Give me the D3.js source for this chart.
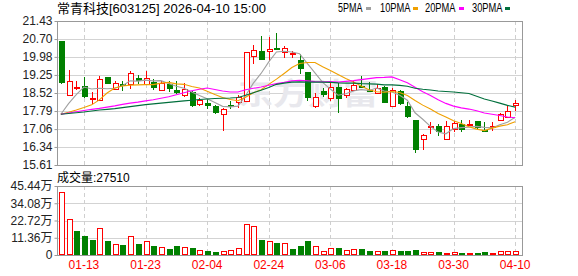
<!DOCTYPE html>
<html><head><meta charset="utf-8">
<script src="https://cdn.jsdelivr.net/npm/d3@7/dist/d3.min.js"></script>
<style>
html,body{margin:0;padding:0;background:#fff;}
svg{display:block;}
text{font-family:"Liberation Sans","Noto Sans CJK SC",sans-serif;}
</style></head>
<body><svg id="c" width="578" height="276"></svg>
<script>
const dates = ["01-08","01-09","01-12","01-13","01-14","01-15","01-16","01-19","01-20","01-21",
"01-22","01-23","01-26","01-27","01-28","01-29","01-30","02-02","02-03","02-04",
"02-05","02-06","02-09","02-10","02-11","02-12","02-13","02-24","02-25","02-26",
"02-27","03-02","03-03","03-04","03-05","03-06","03-09","03-10","03-11","03-12",
"03-13","03-16","03-17","03-18","03-19","03-20","03-23","03-24","03-25","03-26",
"03-27","03-30","03-31","04-01","04-02","04-03","04-07","04-08","04-09","04-10"];
const opens = [20.62,18.41,18.76,18.80,18.27,18.24,19.17,18.68,18.89,18.86,
19.14,18.86,18.98,18.62,18.87,18.63,18.44,18.57,18.08,18.13,
18.01,17.69,18.03,18.13,18.19,20.03,20.22,20.22,20.35,20.15,
20.08,19.85,19.38,17.97,18.60,18.30,18.75,18.44,18.64,18.80,
18.64,18.55,18.76,18.03,18.59,18.00,17.43,16.65,17.13,17.19,
16.66,17.03,17.27,17.23,17.39,17.02,17.12,17.43,17.56,18.01];
const highs = [20.64,19.45,19.02,19.17,18.55,19.21,19.18,19.00,19.00,19.41,
19.25,19.42,19.07,19.02,19.02,19.02,18.94,18.60,18.30,18.26,
18.04,17.93,18.21,18.44,20.17,20.46,20.82,20.80,20.96,20.42,
20.20,20.10,19.38,18.52,18.72,18.91,18.91,18.74,19.02,19.20,
18.95,18.87,18.80,18.71,18.64,18.14,17.43,16.85,17.33,17.27,
17.37,17.39,17.41,17.43,17.40,17.33,17.33,17.70,18.04,18.24];
const lows = [18.88,18.41,18.64,18.33,18.08,18.21,18.88,18.65,18.62,18.68,
18.87,18.86,18.64,18.61,18.55,18.47,18.37,17.97,18.01,17.88,
17.69,17.00,17.87,17.92,18.15,19.68,19.85,19.83,20.26,19.92,
19.95,19.30,18.21,17.93,18.37,18.20,17.73,18.30,18.60,18.71,
18.55,18.47,18.10,18.01,18.03,17.52,16.11,16.22,16.85,16.80,
16.66,16.96,16.96,17.19,17.06,16.96,16.98,17.42,17.55,17.81];
const closes = [18.91,18.99,18.78,18.37,18.33,19.07,18.88,18.91,18.83,19.31,
19.01,19.11,18.72,18.91,18.65,18.50,18.68,18.01,18.24,18.02,
17.73,17.89,17.94,18.35,20.17,20.26,19.85,20.29,20.32,20.33,
20.13,19.50,18.33,18.34,18.45,18.76,18.25,18.67,18.86,18.75,
18.57,18.74,18.10,18.66,18.08,17.55,16.22,16.81,17.19,16.93,
17.19,17.29,17.01,17.28,17.09,16.98,17.18,17.66,17.79,18.10];
const volumes = [41.8,23.4,15.7,12.5,9.8,17.5,9.2,7.2,6.6,12.3,
7.2,9.2,5.9,5.0,3.9,5.9,5.0,4.6,3.1,2.6,
2.0,2.4,3.3,4.4,20.1,18.8,9.8,9.2,8.1,7.7,
3.9,5.9,9.4,5.7,2.4,4.4,4.6,3.3,3.7,3.9,
2.6,2.6,2.6,3.1,2.6,2.6,3.3,1.8,1.8,2.0,
1.3,1.8,1.3,1.3,1.3,2.0,1.3,2.4,2.4,2.751];
const volUp = [1,1,0,0,0,1,0,1,0,1, 0,1,0,1,0,0,1,0,1,0, 0,1,1,1,1,1,0,1,0,1,
0,0,0,1,1,1,0,1,1,0, 0,1,0,1,0,0,0,1,1,0, 1,1,0,1,0,0,1,1,1,1];
const ma5 = [17.66,18.09,18.45,18.76,18.68,18.71,18.69,18.71,18.81,19.01,
19.00,19.04,19.01,19.02,18.90,18.79,18.71,18.56,18.42,18.29,
18.14,17.98,17.96,17.99,18.42,18.92,19.31,19.78,20.18,20.21,
20.18,20.11,19.72,19.33,18.95,18.68,18.43,18.49,18.60,18.66,
18.62,18.72,18.60,18.56,18.43,18.23,17.72,17.46,17.17,16.94,
16.87,17.08,17.12,17.14,17.17,17.13,17.11,17.24,17.34,17.54];
const ma10 = [17.66,17.74,17.83,17.93,18.04,18.24,18.52,18.72,18.80,18.84,
18.85,18.86,18.86,18.92,18.95,18.89,18.87,18.78,18.72,18.59,
18.46,18.34,18.26,18.21,18.35,18.53,18.65,18.87,19.08,19.31,
19.55,19.71,19.75,19.75,19.58,19.43,19.27,19.11,18.96,18.80,
18.65,18.57,18.55,18.58,18.54,18.42,18.22,18.03,17.87,17.69,
17.55,17.40,17.29,17.16,17.06,17.00,17.10,17.18,17.24,17.36];
const ma20 = [17.66,17.71,17.76,17.81,17.86,17.90,17.95,18.00,18.06,18.11,
18.15,18.20,18.25,18.31,18.37,18.45,18.53,18.61,18.67,18.72,
18.66,18.60,18.56,18.56,18.65,18.71,18.76,18.83,18.90,18.95,
19.01,19.03,19.01,18.98,18.97,18.98,18.96,18.99,19.02,19.06,
19.10,19.14,19.15,19.17,19.06,18.93,18.75,18.57,18.42,18.25,
18.10,17.99,17.92,17.87,17.80,17.71,17.66,17.61,17.55,17.52];
const ma30 = [17.66,17.69,17.72,17.75,17.79,17.83,17.86,17.89,17.93,17.97,
18.01,18.05,18.08,18.11,18.14,18.17,18.20,18.23,18.26,18.28,
18.30,18.31,18.32,18.34,18.43,18.53,18.63,18.74,18.87,18.92,
18.96,18.97,18.96,18.96,18.96,18.95,18.93,18.92,18.92,18.90,
18.89,18.88,18.85,18.85,18.83,18.79,18.71,18.67,18.64,18.60,
18.58,18.56,18.53,18.50,18.39,18.28,18.20,18.11,18.02,17.95];
const priceTicks = [15.61,16.34,17.06,17.79,18.52,19.25,19.98,20.70,21.43];
const volTicks = [0,11.36,22.72,34.08,45.44];
const volTickLabels = ["0","11.36万","22.72万","34.08万","45.44万"];
const dateTicks = ["01-13","01-23","02-04","02-24","03-06","03-18","03-30","04-10"];
const maNames = ["5PMA","10PMA","20PMA","30PMA"];
const maColors = ["#a0a0a0","#f0a000","#ff00ff","#006f3c"];
const title = "常青科技[603125] 2026-04-10 15:00";
const volTitle = "成交量:27510";

const svg = d3.select("#c");
const L = 57, R = 522, PT = 21, PB = 165, VT = 186, VB = 255;
const x = d3.scaleBand().domain(dates).range([L, L + 7.7*dates.length]).paddingInner(0).paddingOuter(0);
const cx = d => x(d) + x.bandwidth()/2;
const y = d3.scaleLinear().domain([15.61, 21.43]).range([PB, PT]);
const yv = d3.scaleLinear().domain([0, 45.44]).range([VB, VT]);
const RED = "#ff0000", GRN = "#008000";

// header
svg.append("text").attr("x", 57).attr("y", 13).attr("font-size", 13).attr("fill", "#000").text(title);
// legend
const legX = [338, 380, 425, 472], sqX = [366, 413, 459, 505];
maNames.forEach((n, i) => {
  svg.append("text").attr("x", legX[i]).attr("y", 12).attr("font-size", 12)
    .attr("font-family", "Liberation Serif").attr("textLength", n.length*6.1).attr("lengthAdjust","spacingAndGlyphs")
    .attr("fill", "#000").text(n);
  svg.append("rect").attr("x", sqX[i]).attr("y", 7).attr("width", 5).attr("height", 3).attr("fill", maColors[i]);
});

// grid price
const g = svg.append("g").attr("shape-rendering", "crispEdges");
g.selectAll(".hg").data(priceTicks.slice(1, -1)).join("line")
  .attr("x1", L).attr("x2", R).attr("y1", d => Math.round(y(d))+0.5).attr("y2", d => Math.round(y(d))+0.5)
  .attr("stroke", "#d3d3d3");
g.selectAll(".vg").data(volTicks.slice(1, -1)).join("line")
  .attr("x1", L).attr("x2", R).attr("y1", d => Math.round(yv(d))+0.5).attr("y2", d => Math.round(yv(d))+0.5)
  .attr("stroke", "#d3d3d3");
dateTicks.forEach(dt => {
  const xx = Math.round(cx(dt)) + 0.5;
  g.append("line").attr("x1", xx).attr("x2", xx).attr("y1", PT).attr("y2", PB)
    .attr("stroke", "#cfcfcf").attr("stroke-dasharray", "4,3");
  g.append("line").attr("x1", xx).attr("x2", xx).attr("y1", VT).attr("y2", VB)
    .attr("stroke", "#cfcfcf").attr("stroke-dasharray", "4,3");
});

// watermark
svg.append("text").attr("x", 238).attr("y", 104).attr("font-size", 30).attr("font-weight", "bold")
  .attr("font-family", "Noto Sans CJK SC").attr("fill", "#e8e8ed").attr("textLength", 140)
  .attr("lengthAdjust", "spacingAndGlyphs").text("东方财富");

// candles
const cg = svg.append("g").attr("shape-rendering", "crispEdges");
dates.forEach((d, i) => {
  const up = closes[i] >= opens[i];
  const col = up ? RED : GRN;
  const xc = Math.round(cx(d));
  const top = y(Math.max(opens[i], closes[i])), bot = y(Math.min(opens[i], closes[i]));
  if (up) {
    cg.append("line").attr("x1", xc+0.5).attr("x2", xc+0.5).attr("y1", y(highs[i])).attr("y2", top).attr("stroke", col);
    cg.append("line").attr("x1", xc+0.5).attr("x2", xc+0.5).attr("y1", bot).attr("y2", y(lows[i])).attr("stroke", col);
    cg.append("rect").attr("x", xc-2+0.5).attr("y", Math.round(top)+0.5).attr("width", 5)
      .attr("height", Math.max(1, Math.round(bot - top))).attr("fill", "#fff").attr("stroke", col);
  } else {
    cg.append("line").attr("x1", xc+0.5).attr("x2", xc+0.5).attr("y1", y(highs[i])).attr("y2", y(lows[i])).attr("stroke", col);
    cg.append("rect").attr("x", xc-2).attr("y", Math.round(top)).attr("width", 6)
      .attr("height", Math.max(1.5, Math.round(bot - top))).attr("fill", col);
  }
});

// MA lines
[ma5, ma10, ma20, ma30].forEach((arr, k) => {
  svg.append("path").datum(arr)
    .attr("d", d3.line().x((v, i) => cx(dates[i])).y(v => y(v)))
    .attr("fill", "none").attr("stroke", maColors[k]).attr("stroke-width", 1.1);
});

// volume bars
const vg = svg.append("g").attr("shape-rendering", "crispEdges");
dates.forEach((d, i) => {
  const xc = Math.round(cx(d));
  const t = Math.round(yv(volumes[i]));
  if (volUp[i]) {
    vg.append("rect").attr("x", xc-2+0.5).attr("y", t+0.5).attr("width", 5).attr("height", Math.max(1, VB - t - 1))
      .attr("fill", "#fff").attr("stroke", RED);
  } else {
    vg.append("rect").attr("x", xc-2).attr("y", t).attr("width", 6).attr("height", VB - t).attr("fill", GRN);
  }
});

// borders
svg.append("rect").attr("x", L+0.5).attr("y", PT+0.5).attr("width", R-L).attr("height", PB-PT)
  .attr("fill", "none").attr("stroke", "#999").attr("shape-rendering", "crispEdges");
svg.append("rect").attr("x", L+0.5).attr("y", VT+0.5).attr("width", R-L).attr("height", VB-VT)
  .attr("fill", "none").attr("stroke", "#999").attr("shape-rendering", "crispEdges");

// axes
const ay = svg.append("g").attr("transform", `translate(${L+0.5},0)`)
  .call(d3.axisLeft(y).tickValues(priceTicks).tickSize(3).tickPadding(2).tickFormat(d3.format(".2f")));
ay.select(".domain").remove();
ay.selectAll("line").attr("stroke", "#999");
ay.selectAll("text").attr("font-size", 12).attr("fill", "#222").attr("font-family", "Liberation Sans");

const av = svg.append("g").attr("transform", `translate(${L+0.5},0)`)
  .call(d3.axisLeft(yv).tickValues(volTicks).tickSize(3).tickPadding(2).tickFormat((d, i) => volTickLabels[i]));
av.select(".domain").remove();
av.selectAll("line").attr("stroke", "#999");
av.selectAll("text").attr("font-size", 12).attr("fill", "#222").attr("font-family", "Liberation Sans, Noto Sans CJK SC");

const ax = svg.append("g").attr("transform", `translate(0,${VB})`)
  .call(d3.axisBottom(x).tickValues(dateTicks).tickSize(0).tickPadding(5));
ax.select(".domain").remove();
ax.selectAll("text").attr("font-size", 12).attr("fill", RED).attr("font-family", "Liberation Sans");

svg.append("text").attr("x", 57).attr("y", 182).attr("font-size", 12).attr("fill", "#000").text(volTitle);
</script></body></html>
